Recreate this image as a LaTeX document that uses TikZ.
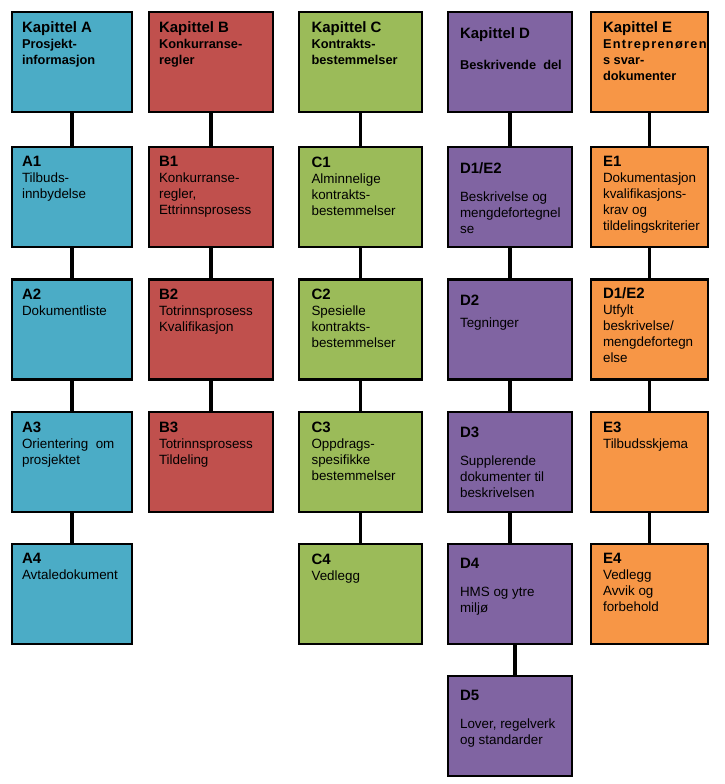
\documentclass[tikz,border=0pt]{standalone}
\usepackage{fontspec}
\setmainfont{Liberation Sans}

\definecolor{kapA}{HTML}{4BACC6}
\definecolor{kapB}{HTML}{C0504D}
\definecolor{kapC}{HTML}{9BBB59}
\definecolor{kapD}{HTML}{8064A2}
\definecolor{kapE}{HTML}{F79646}

\newcommand{\boxtitle}[1]{{\fontsize{15}{16}\selectfont\bfseries #1}}

\begin{document}
\begin{tikzpicture}[x=1pt, y=-1pt,
    box/.style={draw=black, line width=2.3pt, minimum height=100pt, inner sep=0pt},
    colA/.style={box, fill=kapA, minimum width=120pt},
    colB/.style={box, fill=kapB, minimum width=124pt},
    colC/.style={box, fill=kapC, minimum width=123pt},
    colD/.style={box, fill=kapD, minimum width=124pt},
    colE/.style={box, fill=kapE, minimum width=117pt},
    link/.style={line width=3.5pt},
    txt/.style={anchor=north west, inner sep=0pt, align=left, font=\fontsize{13.4}{16}\selectfont},
    kap/.style={txt, font=\fontsize{12.8}{16}\selectfont\bfseries}]
    \useasboundingbox (0,0) rectangle (725,784);

    % Kapittel A
    \node[colA] (A0) at (72,62) {};
    \node[kap] (A0t) at ([xshift=11pt,yshift=-10.5pt]A0.north west) {\boxtitle{Kapittel A}\\Prosjekt-\\informasjon};
    \node[colA] (A1) at (72,197) {};
    \node[txt] (A1t) at ([xshift=11pt,yshift=-10.5pt]A1.north west) {\boxtitle{A1}\\Tilbuds-\\innbydelse};
    \node[colA] (A2) at (72,329.5) {};
    \node[txt] (A2t) at ([xshift=11pt,yshift=-10.5pt]A2.north west) {\boxtitle{A2}\\Dokumentliste};
    \node[colA] (A3) at (72,462) {};
    \node[txt] (A3t) at ([xshift=11pt,yshift=-10.5pt]A3.north west) {\boxtitle{A3}\\Orientering~~om\\prosjektet};
    \node[colA] (A4) at (72,594) {};
    \node[txt] (A4t) at ([xshift=11pt,yshift=-10.5pt]A4.north west) {\boxtitle{A4}\\Avtaledokument};

    % Kapittel B
    \node[colB] (B0) at (211,62) {};
    \node[kap] (B0t) at ([xshift=11pt,yshift=-10.5pt]B0.north west) {\boxtitle{Kapittel B}\\Konkurranse-\\regler};
    \node[colB] (B1) at (211,197) {};
    \node[txt] (B1t) at ([xshift=11pt,yshift=-10.5pt]B1.north west) {\boxtitle{B1}\\Konkurranse-\\regler,\\Ettrinnsprosess};
    \node[colB] (B2) at (211,329.5) {};
    \node[txt] (B2t) at ([xshift=11pt,yshift=-10.5pt]B2.north west) {\boxtitle{B2}\\Totrinnsprosess\\Kvalifikasjon};
    \node[colB] (B3) at (211,462) {};
    \node[txt] (B3t) at ([xshift=11pt,yshift=-10.5pt]B3.north west) {\boxtitle{B3}\\Totrinnsprosess\\Tildeling};

    % Kapittel C
    \node[colC] (C0) at (360.5,62) {};
    \node[kap] (C0t) at ([xshift=13.5pt,yshift=-10.5pt]C0.north west) {\boxtitle{Kapittel C}\\Kontrakts-\\bestemmelser};
    \node[colC] (C1) at (360.5,197) {};
    \node[txt] (C1t) at ([xshift=13.5pt,yshift=-10.5pt]C1.north west) {\boxtitle{C1}\\Alminnelige\\kontrakts-\\bestemmelser};
    \node[colC] (C2) at (360.5,329.5) {};
    \node[txt] (C2t) at ([xshift=13.5pt,yshift=-10.5pt]C2.north west) {\boxtitle{C2}\\Spesielle\\kontrakts-\\bestemmelser};
    \node[colC] (C3) at (360.5,462) {};
    \node[txt] (C3t) at ([xshift=13.5pt,yshift=-10.5pt]C3.north west) {\boxtitle{C3}\\Oppdrags-\\spesifikke\\bestemmelser};
    \node[colC] (C4) at (360.5,594) {};
    \node[txt] (C4t) at ([xshift=13.5pt,yshift=-10.5pt]C4.north west) {\boxtitle{C4}\\Vedlegg};

    % Kapittel D
    \node[colD] (D0) at (510,62) {};
    \node[kap] (D0t) at ([xshift=13pt,yshift=-16.5pt]D0.north west) {\boxtitle{Kapittel D}\\[15pt]Beskrivende~~del};
    \node[colD] (D1) at (510,197) {};
    \node[txt] (D1t) at ([xshift=13pt,yshift=-16.5pt]D1.north west) {\boxtitle{D1/E2}\\[12pt]Beskrivelse og\\mengdefortegnel\\se};
    \node[colD] (D2) at (510,329.5) {};
    \node[txt] (D2t) at ([xshift=13pt,yshift=-16pt]D2.north west) {\boxtitle{D2}\\[6pt]Tegninger};
    \node[colD] (D3) at (510,462) {};
    \node[txt] (D3t) at ([xshift=13pt,yshift=-16pt]D3.north west) {\boxtitle{D3}\\[12pt]Supplerende\\dokumenter til\\beskrivelsen};
    \node[colD] (D4) at (510,594) {};
    \node[txt] (D4t) at ([xshift=13pt,yshift=-15pt]D4.north west) {\boxtitle{D4}\\[12pt]HMS og ytre\\miljø};
    \node[colD] (D5) at (510,726) {};
    \node[txt] (D5t) at ([xshift=13pt,yshift=-15pt]D5.north west) {\boxtitle{D5}\\[12pt]Lover, regelverk\\og standarder};

    % Kapittel E
    \node[colE] (E0) at (649.5,62) {};
    \node[kap] (E0t) at ([xshift=13pt,yshift=-10.5pt]E0.north west) {\boxtitle{Kapittel E}\\{\addfontfeatures{LetterSpace=10}Entreprenøren}\\s svar-\\dokumenter};
    \node[colE] (E1) at (649.5,197) {};
    \node[txt] (E1t) at ([xshift=13pt,yshift=-10.5pt]E1.north west) {\boxtitle{E1}\\Dokumentasjon\\kvalifikasjons-\\krav og\\tildelingskriterier};
    \node[colE] (E2) at (649.5,329.5) {};
    \node[txt] (E2t) at ([xshift=13pt,yshift=-9.5pt]E2.north west) {\boxtitle{D1/E2}\\Utfylt\\beskrivelse/\\mengdefortegn\\else};
    \node[colE] (E3) at (649.5,462) {};
    \node[txt] (E3t) at ([xshift=13pt,yshift=-10.5pt]E3.north west) {\boxtitle{E3}\\Tilbudsskjema};
    \node[colE] (E4) at (649.5,594) {};
    \node[txt] (E4t) at ([xshift=13pt,yshift=-10.5pt]E4.north west) {\boxtitle{E4}\\Vedlegg\\Avvik og\\forbehold};

    % connectors
    \foreach \a/\b in {A0/A1,A1/A2,A2/A3,A3/A4,B0/B1,B1/B2,B2/B3,C0/C1,C1/C2,C2/C3,C3/C4,D0/D1,D1/D2,D2/D3,D3/D4,E0/E1,E1/E2,E2/E3,E3/E4}
        \draw[link] (\a.south) -- (\b.north);
    \draw[link] ([xshift=5pt]D4.south) -- ([xshift=5pt]D5.north);
\end{tikzpicture}
\end{document}
